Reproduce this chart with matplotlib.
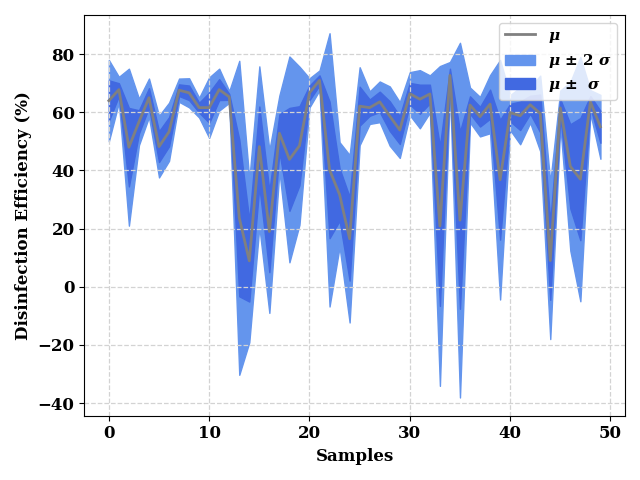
import numpy as np
import matplotlib
matplotlib.use("Agg")
import matplotlib.pyplot as plt

plt.rcParams['font.family'] = 'DejaVu Serif'
plt.rcParams['font.weight'] = 'bold'
plt.rcParams['mathtext.fontset'] = 'dejavuserif'

samples = np.arange(50)

# mean efficiency per sample
mu = [64.0, 67.8, 48.0, 56.7, 65.0, 48.2, 53.3, 67.6, 66.7, 61.6,
      61.6, 67.8, 65.3, 23.7, 8.9, 48.2, 19.0, 52.8, 43.8, 48.5,
      66.7, 71.0, 40.2, 31.7, 16.5, 62.1, 61.6, 63.6, 58.7, 53.9,
      66.4, 64.5, 66.3, 20.9, 72.7, 22.9, 62.5, 58.5, 62.8, 36.8,
      59.9, 58.8, 62.6, 59.6, 9.0, 61.5, 41.4, 37.0, 63.6, 55.0]

# standard deviation per sample
sigma = [7.0, 2.2, 13.5, 4.0, 3.3, 5.3, 5.0, 2.0, 2.5, 1.7,
         5.2, 3.6, 1.0, 27.0, 14.0, 13.8, 14.0, 6.5, 17.7, 13.6,
         2.5, 1.7, 23.5, 9.0, 14.4, 6.7, 2.8, 3.5, 5.1, 4.8,
         3.7, 5.0, 3.2, 27.5, 2.3, 30.5, 3.0, 3.4, 5.0, 20.6,
         3.0, 4.9, 3.1, 6.5, 13.5, 3.0, 14.5, 21.0, 2.0, 5.5]

mu = np.array(mu)
sigma = np.array(sigma)

fig, ax = plt.subplots(figsize=(6.4, 4.8), dpi=100)

band2 = ax.fill_between(samples, mu - 2 * sigma, mu + 2 * sigma, color='cornflowerblue',
                        label=r'$\boldsymbol{\mu}$ $\pm$ 2 $\boldsymbol{\sigma}$')
band1 = ax.fill_between(samples, mu - sigma, mu + sigma, color='royalblue',
                        label=r'$\boldsymbol{\mu}$ $\pm$  $\boldsymbol{\sigma}$')
line, = ax.plot(samples, mu, color='gray', linewidth=2, label=r'$\boldsymbol{\mu}$')

ax.set_xlabel('Samples', fontsize=12, fontweight='bold')
ax.set_ylabel('Disinfection Efficiency (%)', fontsize=12, fontweight='bold')
ax.tick_params(labelsize=12)
for lbl in ax.get_xticklabels() + ax.get_yticklabels():
    lbl.set_fontweight('bold')

ax.grid(True, linestyle='--', color='lightgray', linewidth=0.9)
ax.legend(handles=[line, band2, band1], loc='upper right',
          prop={'weight': 'bold', 'size': 11})

plt.tight_layout()
plt.savefig('out.png')
